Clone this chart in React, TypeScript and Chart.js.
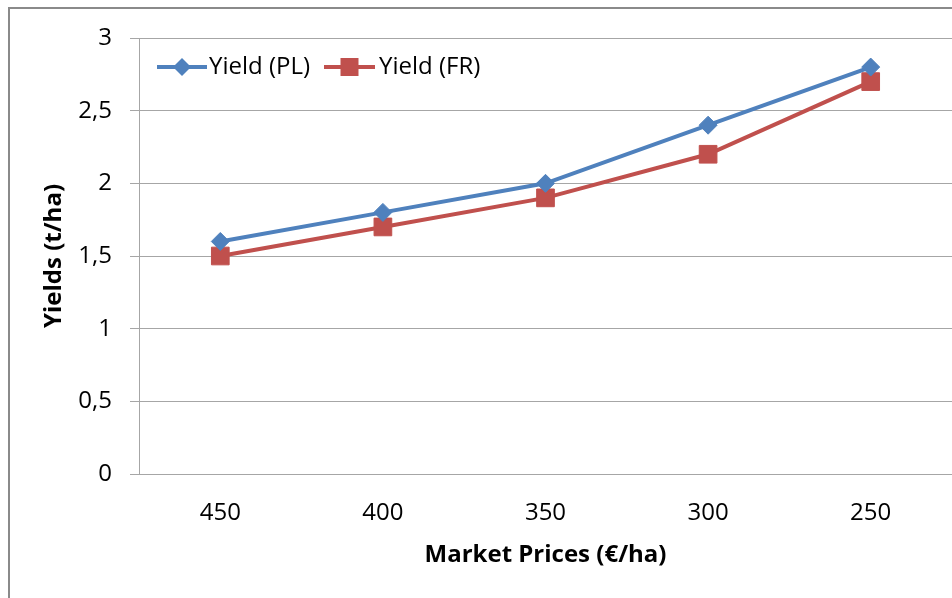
import React, { useEffect, useRef } from "react";
import { Chart, registerables } from "chart.js";

Chart.register(...registerables);

const categories = ["450", "400", "350", "300", "250"];
const yieldPL = [1.6, 1.8, 2.0, 2.4, 2.8];
const yieldFR = [1.5, 1.7, 1.9, 2.2, 2.7];
const yTickLabels = ["0", "0,5", "1", "1,5", "2", "2,5", "3"];
const seriesNames = ["Yield (PL)", "Yield (FR)"];
const xTitle = "Market Prices (€/ha)";
const yTitle = "Yields (t/ha)";

const FONT = "'Open Sans', Lato, sans-serif";
const BLUE = "#4F81BD";
const RED = "#C0504D";
const GRID = "#a6a6a6";

const frame = {
  id: "frame",
  beforeDraw(chart: any) {
    const ctx = chart.ctx;
    ctx.save();
    ctx.fillStyle = "#ffffff";
    ctx.fillRect(0, 0, chart.width, chart.height);
    ctx.strokeStyle = "#8a8a8a";
    ctx.lineWidth = 2;
    ctx.strokeRect(9, 8, chart.width + 10, chart.height + 10);
    ctx.restore();
  },
};

const insideLegend = {
  id: "insideLegend",
  afterDraw(chart: any) {
    const ctx = chart.ctx;
    const y = 67;
    const items = [
      { x0: 157, x1: 207, text: 209, i: 0 },
      { x0: 324, x1: 375, text: 379, i: 1 },
    ];
    ctx.save();
    items.forEach((it) => {
      const ds = chart.data.datasets[it.i];
      ctx.strokeStyle = ds.borderColor;
      ctx.lineWidth = 4;
      ctx.beginPath();
      ctx.moveTo(it.x0, y);
      ctx.lineTo(it.x1, y);
      ctx.stroke();
      const cx = (it.x0 + it.x1) / 2;
      ctx.fillStyle = ds.pointBackgroundColor;
      ctx.beginPath();
      if (ds.pointStyle === "rectRot") {
        const r = 9;
        ctx.moveTo(cx, y - r);
        ctx.lineTo(cx + r, y);
        ctx.lineTo(cx, y + r);
        ctx.lineTo(cx - r, y);
        ctx.closePath();
      } else {
        ctx.rect(cx - 9, y - 9, 18, 18);
      }
      ctx.fill();
      ctx.fillStyle = "#000000";
      ctx.font = `24px ${FONT}`;
      ctx.textAlign = "left";
      ctx.textBaseline = "middle";
      ctx.fillText(ds.label, it.text, y);
    });
    ctx.restore();
  },
};

export default function App() {
  const ref = useRef<HTMLCanvasElement | null>(null);

  useEffect(() => {
    document.body.style.margin = "0";
    const canvas = ref.current!;
    const chart = new Chart(canvas, {
      type: "line",
      data: {
        labels: categories,
        datasets: [
          {
            label: seriesNames[0],
            data: yieldPL,
            borderColor: BLUE,
            backgroundColor: BLUE,
            pointBackgroundColor: BLUE,
            pointBorderColor: BLUE,
            pointStyle: "rectRot",
            pointRadius: 9,
            pointBorderWidth: 1,
            borderWidth: 4,
            tension: 0,
          },
          {
            label: seriesNames[1],
            data: yieldFR,
            borderColor: RED,
            backgroundColor: RED,
            pointBackgroundColor: RED,
            pointBorderColor: RED,
            pointStyle: "rect",
            pointRadius: 12.5,
            pointBorderWidth: 1,
            borderWidth: 4,
            tension: 0,
          },
        ],
      },
      options: {
        animation: false,
        responsive: false,
        maintainAspectRatio: false,
        layout: { autoPadding: false, padding: { top: 38, right: 0, left: 0, bottom: 0 } },
        plugins: {
          legend: { display: false },
          tooltip: { enabled: false },
        },
        scales: {
          x: {
            offset: true,
            grid: { display: false, drawTicks: false, tickLength: 0 },
            border: { display: true, color: GRID, width: 1 },
            ticks: {
              color: "#000000",
              font: { family: FONT, size: 24 },
              padding: 25,
              maxRotation: 0,
              autoSkip: false,
            },
            title: {
              display: true,
              text: xTitle,
              color: "#000000",
              font: { family: FONT, size: 24, weight: "bold" },
              padding: { top: 0, bottom: 28 },
            },
            afterFit(scale: any) {
              scale.height = 124;
              scale.paddingLeft = 0;
              scale.paddingRight = 0;
            },
          },
          y: {
            min: 0,
            max: 3,
            ticks: {
              stepSize: 0.5,
              color: "#000000",
              font: { family: FONT, size: 24 },
              padding: 18,
              callback: (_v: any, i: number) => yTickLabels[i],
            },
            grid: {
              color: GRID,
              lineWidth: 1,
              drawTicks: true,
              tickLength: 9,
            },
            border: { display: true, color: GRID, width: 1 },
            title: {
              display: true,
              text: yTitle,
              color: "#000000",
              font: { family: FONT, size: 24, weight: "bold" },
              padding: { top: 40, bottom: 0 },
            },
            afterFit(scale: any) {
              scale.width = 139;
              scale.paddingTop = 0;
              scale.paddingBottom = 0;
            },
          },
        },
      },
      plugins: [frame, insideLegend],
    });
    return () => chart.destroy();
  }, []);

  return (
    <div style={{ position: "fixed", left: 0, top: 0, width: 952, height: 598 }}>
      <canvas ref={ref} width={952} height={598} style={{ width: 952, height: 598 }} />
    </div>
  );
}
